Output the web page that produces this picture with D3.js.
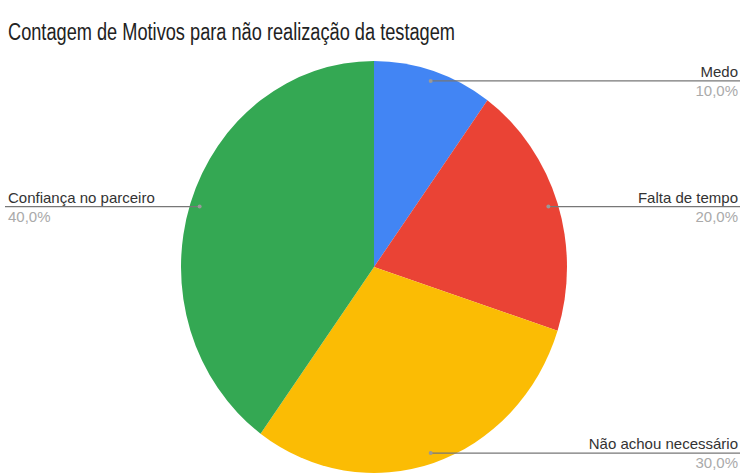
<!DOCTYPE html>
<html>
<head>
<meta charset="utf-8">
<script src="https://cdn.jsdelivr.net/npm/d3@7/dist/d3.min.js"></script>
<style>
  html, body { margin: 0; padding: 0; background: #fff; }
  svg { display: block; font-family: "Liberation Sans", Arial, sans-serif; }
</style>
</head>
<body>
<svg id="chart" width="741" height="475"></svg>
<script>
// Motivos (em ordem horária a partir do topo) e percentuais
const categories = ["Medo", "Falta de tempo", "Não achou necessário", "Confiança no parceiro"];
const values = [10, 20, 30, 40];
const colors = ["#4285F4", "#EA4335", "#FBBC04", "#34A853"];
const title = "Contagem de Motivos para não realização da testagem";

const width = 741, height = 475;
const cx = 374, cy = 267;
const rx = 193, ry = 206;   // the pie is drawn slightly taller than wide

const svg = d3.select("#chart");

svg.append("text")
  .attr("x", 8).attr("y", 40)
  .attr("font-size", 23)
  .attr("fill", "#222")
  .attr("textLength", 447)
  .attr("lengthAdjust", "spacingAndGlyphs")
  .text(title);

const pie = d3.pie().sort(null).value(d => d.value);
const data = pie(categories.map((c, i) => ({ name: c, value: values[i], color: colors[i] })));
const total = d3.sum(values);

const arc = d3.arc().innerRadius(0).outerRadius(rx);

svg.append("g")
  .attr("transform", `translate(${cx},${cy}) scale(1,${ry / rx})`)
  .selectAll("path")
  .data(data)
  .join("path")
  .attr("d", arc)
  .attr("fill", d => d.data.color);

const fmt = v => d3.format(".1f")(v).replace(".", ",") + "%";
const k = 0.95;

const labels = svg.append("g");
data.forEach(d => {
  const a = (d.startAngle + d.endAngle) / 2;
  const px = cx + rx * k * Math.sin(a);
  const py = cy - ry * k * Math.cos(a);
  const right = Math.sin(a) >= 0;
  const x0 = right ? px : 5;
  const x1 = right ? 740 : px;
  labels.append("line")
    .attr("x1", x0).attr("x2", x1)
    .attr("y1", py).attr("y2", py)
    .attr("stroke", "#777").attr("stroke-width", 1.3);
  labels.append("circle")
    .attr("cx", px).attr("cy", py).attr("r", 2)
    .attr("fill", "#999");
  const tx = right ? 738 : 8;
  const anchor = right ? "end" : "start";
  labels.append("text")
    .attr("x", tx).attr("y", py - 4)
    .attr("text-anchor", anchor)
    .attr("font-size", 15).attr("fill", "#333")
    .text(d.data.name);
  labels.append("text")
    .attr("x", tx).attr("y", py + 15)
    .attr("text-anchor", anchor)
    .attr("font-size", 15).attr("fill", "#aaa")
    .text(fmt(d.data.value / total * 100));
});
</script>
</body>
</html>
